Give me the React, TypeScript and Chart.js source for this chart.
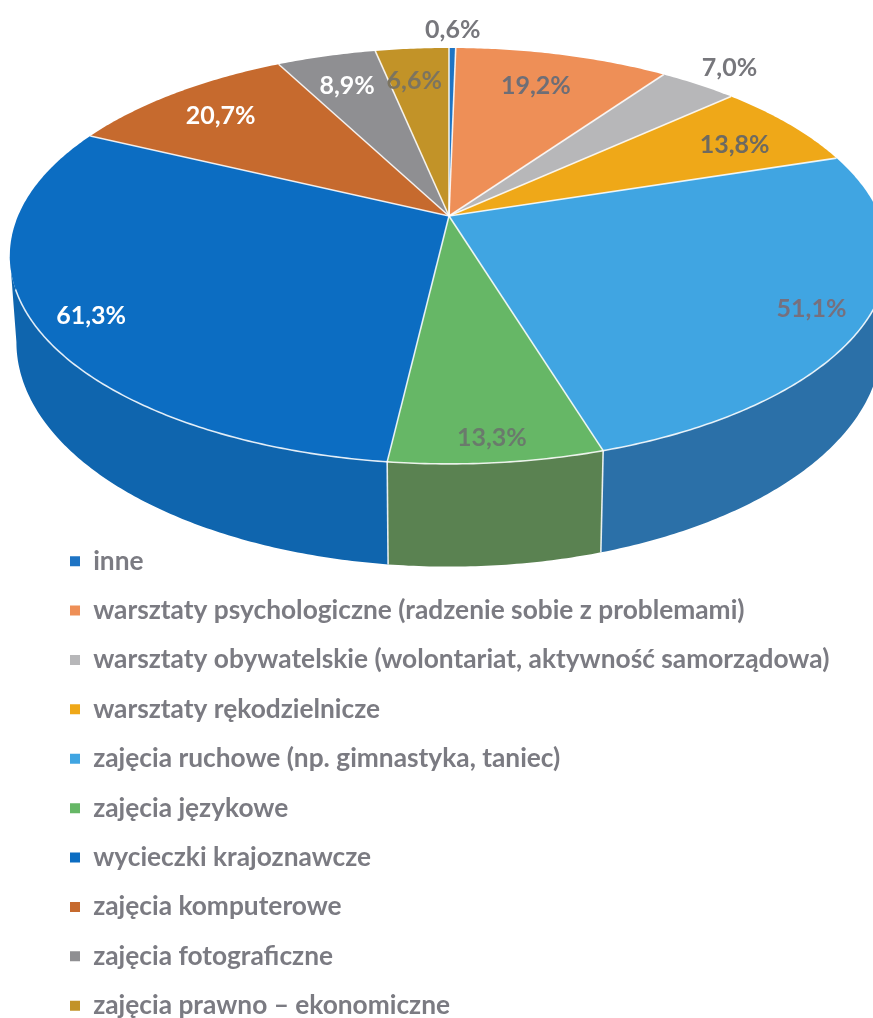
import React, { useEffect, useRef } from "react";
import { Chart, registerables } from "chart.js";

Chart.register(...registerables);

const categories = [
  "inne",
  "warsztaty psychologiczne (radzenie sobie z problemami)",
  "warsztaty obywatelskie (wolontariat, aktywność samorządowa)",
  "warsztaty rękodzielnicze",
  "zajęcia ruchowe (np. gimnastyka, taniec)",
  "zajęcia językowe",
  "wycieczki krajoznawcze",
  "zajęcia komputerowe",
  "zajęcia fotograficzne",
  "zajęcia prawno – ekonomiczne",
];
const values = [0.6, 19.2, 7.0, 13.8, 51.1, 13.3, 61.3, 20.7, 8.9, 6.6];
const topColors = ["#1E74C4", "#EE8F57", "#B7B7B9", "#EFA818", "#40A5E2", "#66B766", "#0C6DC2", "#C66A2E", "#8F8F92", "#C29328"];
const wallColors = ["#155A9A", "#B96A3E", "#87878A", "#B07C10", "#2B70A8", "#5A8251", "#0F65AE", "#91501F", "#6A6A6C", "#90701C"];
const labelColors = ["#77777C", "#6E6E76", "#77777C", "#6E6A60", "#76707E", "#6A7A6C", "#FFFFFF", "#FFFFFF", "#FFFFFF", "#7C7460"];
const labelRadius = [1.137, 0.783, 1.152, 0.811, 0.881, 0.914, 0.883, 0.811, 0.796, 0.786];
const labelTurnDeg = [0, -1, -0.2, 1.5, 1.1, 0, -2, -0.4, -0.2, -0.9];

const FONT = "Lato";
const CX = 449;
const CY = 216;
const RX = 431;
const RY = 200.3;
const PERSP = 0.192;
const DEPTH = 83;
const BOTTOM_X = 0.985;

const project = (angle: number, r = 1) => {
  const u = Math.cos(angle) * r;
  const v = Math.sin(angle) * r;
  const s = 1 / (1 - PERSP * v);
  return { x: CX + RX * u * s, y: CY + RY * v * s, s };
};
const projectBottom = (angle: number) => {
  const p = project(angle);
  return { x: CX + (p.x - CX) * BOTTOM_X, y: p.y + DEPTH * p.s };
};
const arcSteps = (a: number, b: number) => {
  const n = Math.max(2, Math.ceil(Math.abs(b - a) / 0.01));
  const out: number[] = [];
  for (let i = 0; i <= n; i++) out.push(a + ((b - a) * i) / n);
  return out;
};
// visible front part of the rim, as angle range clipped to sin(a) >= PERSP
const FRONT_A = Math.asin(PERSP);
const FRONT_B = Math.PI - FRONT_A;
const frontRange = (a: number, b: number): [number, number] | null => {
  const s = Math.max(a, FRONT_A);
  const e = Math.min(b, FRONT_B);
  return e > s ? [s, e] : null;
};

const perspectivePie = {
  id: "perspectivePie",
  afterLayout(chart: any) {
    const legend = chart.legend;
    const p = legend.options.labels.padding;
    const w = legend.right - legend.left;
    const h = legend.bottom - legend.top;
    legend.left = 70 - p;
    legend.right = legend.left + w;
    legend.top = 548 - p;
    legend.bottom = legend.top + h;
  },
  beforeDatasetsDraw(chart: any) {
    const ctx = chart.ctx;
    const arcs = chart.getDatasetMeta(0).data;
    const colors = chart.data.datasets[0].backgroundColor;
    ctx.save();

    // side wall
    arcs.forEach((arc: any, i: number) => {
      const range = frontRange(arc.startAngle, arc.endAngle);
      if (!range) return;
      const steps = arcSteps(range[0], range[1]);
      ctx.beginPath();
      steps.forEach((a, k) => {
        const p = project(a);
        k ? ctx.lineTo(p.x, p.y) : ctx.moveTo(p.x, p.y);
      });
      [...steps].reverse().forEach((a) => {
        const p = projectBottom(a);
        ctx.lineTo(p.x, p.y);
      });
      ctx.closePath();
      ctx.fillStyle = wallColors[i];
      ctx.fill();
    });

    // top face
    arcs.forEach((arc: any, i: number) => {
      ctx.beginPath();
      ctx.moveTo(CX, CY);
      arcSteps(arc.startAngle, arc.endAngle).forEach((a) => {
        const p = project(a);
        ctx.lineTo(p.x, p.y);
      });
      ctx.closePath();
      ctx.fillStyle = colors[i];
      ctx.fill();
    });

    // separators, rim and wall seams
    ctx.strokeStyle = "rgba(255,255,255,0.85)";
    ctx.lineWidth = 1.6;
    ctx.lineJoin = "round";
    arcs.forEach((arc: any) => {
      const p = project(arc.startAngle);
      ctx.beginPath();
      ctx.moveTo(CX, CY);
      ctx.lineTo(p.x, p.y);
      ctx.stroke();
      if (frontRange(arc.startAngle, arc.startAngle + 1e-6)) {
        const b = projectBottom(arc.startAngle);
        ctx.beginPath();
        ctx.moveTo(p.x, p.y);
        ctx.lineTo(b.x, b.y);
        ctx.stroke();
      }
    });
    ctx.beginPath();
    arcSteps(0.35 > FRONT_A ? 0.35 : FRONT_A, Math.PI - 0.35).forEach((a, k) => {
      const p = project(a);
      k ? ctx.lineTo(p.x, p.y) : ctx.moveTo(p.x, p.y);
    });
    ctx.stroke();

    // value labels
    ctx.font = `700 25px ${FONT}`;
    ctx.textAlign = "center";
    ctx.textBaseline = "middle";
    arcs.forEach((arc: any, i: number) => {
      const mid = (arc.startAngle + arc.endAngle) / 2 + (labelTurnDeg[i] * Math.PI) / 180;
      const p = project(mid, labelRadius[i]);
      ctx.fillStyle = labelColors[i];
      ctx.fillText(values[i].toFixed(1).replace(".", ",") + "%", p.x, p.y + 1);
    });
    ctx.restore();
    return false;
  },
};

export default function App() {
  const ref = useRef<HTMLCanvasElement>(null);
  useEffect(() => {
    document.body.style.margin = "0";
    const chart = new Chart(ref.current!, {
      type: "pie",
      data: {
        labels: categories,
        datasets: [{ data: values, backgroundColor: topColors, borderWidth: 0 }],
      },
      plugins: [perspectivePie],
      options: {
        responsive: false,
        animation: false,
        layout: { padding: 0 },
        plugins: {
          tooltip: { enabled: false },
          legend: {
            position: "left",
            align: "start",
            maxWidth: 873,
            labels: {
              boxWidth: 10,
              boxHeight: 10,
              padding: 23.1,
              color: "#7B7B82",
              font: { family: FONT, size: 26.3, weight: "700" },
            },
          },
        },
      },
    } as any);
    return () => chart.destroy();
  }, []);
  return (
    <div style={{ width: 873, height: 1018, overflow: "hidden" }}>
      <canvas ref={ref} width={873} height={1018} style={{ display: "block", filter: "blur(0.6px)" }} />
    </div>
  );
}
